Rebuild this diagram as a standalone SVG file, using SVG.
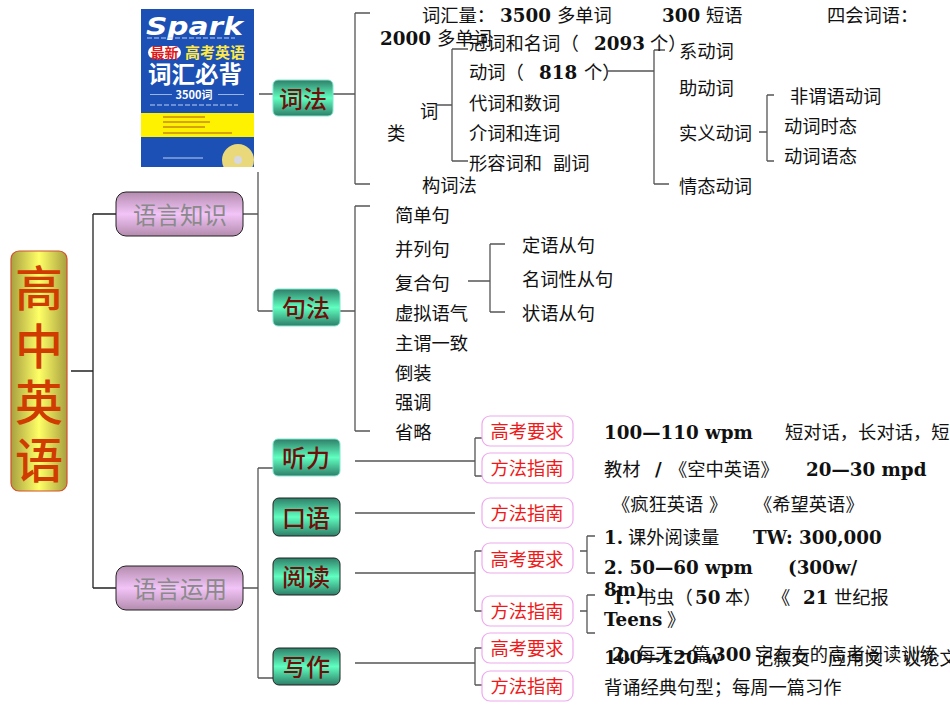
<svg xmlns="http://www.w3.org/2000/svg" width="950" height="713" viewBox="0 0 950 713">
<style>
text{font-family:"DejaVu Serif","Noto Sans CJK SC",serif;font-size:18.3px;fill:#111}
.b{font-weight:700}
.c{font-family:"Noto Sans CJK SC","DejaVu Sans",sans-serif}
.m{text-anchor:middle}
.g{font-size:24px;fill:#6e0f0a;font-weight:500}
.p{font-size:23.500px;fill:#8a8a8a}
.r{font-size:18.300px;fill:#f01818}
.h{font-size:48px;fill:#d03c00;font-weight:500}
.l{fill:none;stroke:#555;stroke-width:1.3}
.d{fill:none;stroke:#222;stroke-width:1.3}
.tl{fill:url(#teal);stroke:#7fe8cf;stroke-width:1}
.td{fill:url(#teal);stroke:#222;stroke-width:1}
.pk{fill:url(#pink);stroke:#222;stroke-width:1}
.rb{fill:#fff;stroke:#eeaaee;stroke-width:1.2}
</style>
<defs>
<linearGradient id="teal" x1="0" y1="0" x2="0" y2="1"><stop offset="0" stop-color="#2e7e68"/><stop offset=".5" stop-color="#60ffc0"/><stop offset="1" stop-color="#2e7e68"/></linearGradient>
<linearGradient id="pink" x1="0" y1="0" x2="0" y2="1"><stop offset="0" stop-color="#b48cae"/><stop offset=".5" stop-color="#f2c4f8"/><stop offset="1" stop-color="#b48cae"/></linearGradient>
<linearGradient id="gold" x1="0" y1="0" x2="1" y2="0"><stop offset="0" stop-color="#a8a040"/><stop offset=".5" stop-color="#ffff66"/><stop offset="1" stop-color="#a8a040"/></linearGradient>
<clipPath id="cover"><rect x="141" y="9" width="113" height="158"/></clipPath>
</defs>
<g id="book">
<rect x="141" y="9" width="113" height="158" fill="#1c50b4"/>
<rect x="141" y="113" width="113" height="24" fill="#fff200"/>
<text x="146" y="35" class="b" textLength="97" lengthAdjust="spacingAndGlyphs" style="font-family:'DejaVu Sans';font-size:24px;font-style:italic;fill:#fff">Spark</text>
<rect x="148" y="46" width="33" height="13" rx="6.500" fill="#fff"/>
<text x="164.500" y="58" class="c b m" style="font-size:14px;fill:#e01818">最新</text>
<text x="215" y="58" class="c b m" style="font-size:15px;fill:#ffe94a">高考英语</text>
<text x="195" y="83" class="c b m" style="font-size:23.500px;fill:#fff">词汇必背</text>
<text x="194" y="99" class="c b m" style="font-size:11px;fill:#fff">3500词</text>
<path d="M150 94.500H172M218 94.500H244" stroke="#cfe0ff" stroke-width=".7"/>
<path d="M147 38H235M150 105H238" stroke="#bcd0f5" stroke-width="1" stroke-dasharray="5 2"/>
<path d="M163 117H205M163 122H210M163 127H205M163 133H232" stroke="#c8880a" stroke-width="1.500"/>
<path d="M163 158H203" stroke="#bcd0f5" stroke-width="1"/>
<g clip-path="url(#cover)"><circle cx="238" cy="160" r="16" fill="#e9d97a"/><circle cx="238" cy="160" r="4" fill="#d8d8e0"/></g>
</g>
<g id="connectors">
<path class="d" d="M71 371H93M93 214V588M93 214H116M93 588H116"/>
<path class="l" d="M243 214H258M258 172V311M258 311H273M259 94H273M243 588H258M258 468V678M258 468H273M258 678H273"/>
<path class="l" d="M333 94H355M355 13V184M355 13H370M355 184H370M437 105H452M452 49V161M452 49H468M452 161H468M608 71H654M654 50V184M654 50H665M654 184H669M759 132H767M767 95V161M767 95H774M767 161H774"/>
<path class="l" d="M340 311H355M355 206V431M355 206H370M355 431H370M468 281H490M490 244V312M490 244H505M490 312H505"/>
<path class="l" d="M355 461H475M475 438V476M475 438H482M475 476H482M355 513H475M355 573H475M475 551V611M475 551H482M475 611H482M580 551H587M587 536V573M587 536H595M587 573H595M580 611H587M587 595V633M587 595H595M587 633H595M355 663H475M475 648V685M475 648H482M475 685H482"/>
</g>
<g id="n-root"><rect x="11" y="251" width="56" height="240" rx="8" fill="url(#gold)" stroke="#d2502a" stroke-width="1.200"/><text x="39" y="306" class="c h m">高</text><text x="39" y="364" class="c h m">中</text><text x="39" y="420" class="c h m">英</text><text x="39" y="478" class="c h m">语</text></g>
<g id="n-zhishi"><rect class="pk" x="116" y="192" width="127" height="44" rx="10"/><text x="180" y="224" class="c p m">语言知识</text></g>
<g id="n-yunyong"><rect class="pk" x="116" y="566" width="127" height="44" rx="10"/><text x="180" y="598" class="c p m">语言运用</text></g>
<g id="n-cifa"><rect class="tl" x="273" y="80" width="60" height="36" rx="5"/><text x="303" y="108" class="c g m">词法</text></g>
<g id="n-jufa"><rect class="tl" x="273" y="289" width="67" height="37" rx="5"/><text x="306" y="317" class="c g m">句法</text></g>
<g id="n-tingli"><rect class="tl" x="273" y="439" width="67" height="37" rx="5"/><text x="306" y="467" class="c g m">听力</text></g>
<g id="n-kouyu"><rect class="td" x="273" y="498" width="67" height="38" rx="6"/><text x="306" y="527" class="c g m">口语</text></g>
<g id="n-yuedu"><rect class="td" x="273" y="558" width="67" height="37" rx="6"/><text x="306" y="586" class="c g m">阅读</text></g>
<g id="n-xiezuo"><rect class="td" x="273" y="648" width="67" height="37" rx="6"/><text x="306" y="676" class="c g m">写作</text></g>
<g id="n-r1"><rect class="rb" x="482" y="416" width="91" height="30" rx="8"/><text x="527" y="438" class="c r m">高考要求</text></g>
<g id="n-r2"><rect class="rb" x="482" y="453" width="91" height="30" rx="8"/><text x="527" y="475" class="c r m">方法指南</text></g>
<g id="n-r3"><rect class="rb" x="482" y="498" width="91" height="30" rx="8"/><text x="527" y="520" class="c r m">方法指南</text></g>
<g id="n-r4"><rect class="rb" x="482" y="543" width="91" height="30" rx="8"/><text x="527" y="566" class="c r m">高考要求</text></g>
<g id="n-r5"><rect class="rb" x="482" y="596" width="91" height="30" rx="8"/><text x="527" y="618" class="c r m">方法指南</text></g>
<g id="n-r6"><rect class="rb" x="482" y="633" width="91" height="30" rx="8"/><text x="527" y="655" class="c r m">高考要求</text></g>
<g id="n-r7"><rect class="rb" x="482" y="671" width="91" height="30" rx="8"/><text x="527" y="693" class="c r m">方法指南</text></g>
<g id="labels">
<text x="422" y="22">词汇量：<tspan x="500" class="b">3500</tspan><tspan x="557">多单词</tspan></text>
<text x="662" y="22"><tspan class="b">300</tspan><tspan x="706">短语</tspan></text>
<text x="827" y="22">四会词语：</text>
<text x="380" y="45"><tspan class="b">2000</tspan><tspan x="437">多单词</tspan></text>
<text x="469" y="50">冠词和名词（<tspan x="594" class="b">2093</tspan><tspan x="650">个）</tspan></text>
<text x="469" y="79">动词（<tspan x="539" class="b">818</tspan><tspan x="584">个）</tspan></text>
<text x="469" y="110">代词和数词</text>
<text x="469" y="140">介词和连词</text>
<text x="469" y="170">形容词和<tspan x="553">副词</tspan></text>
<text x="420" y="118">词</text>
<text x="387" y="140">类</text>
<text x="422" y="192">构词法</text>
<text x="679" y="58">系动词</text>
<text x="679" y="95">助动词</text>
<text x="679" y="140">实义动词</text>
<text x="679" y="193">情态动词</text>
<text x="790" y="103">非谓语动词</text>
<text x="784" y="133">动词时态</text>
<text x="784" y="163">动词语态</text>
<text x="395" y="222">简单句</text>
<text x="395" y="256">并列句</text>
<text x="395" y="290">复合句</text>
<text x="395" y="320">虚拟语气</text>
<text x="395" y="350">主谓一致</text>
<text x="395" y="380">倒装</text>
<text x="395" y="409">强调</text>
<text x="395" y="439">省略</text>
<text x="522" y="252">定语从句</text>
<text x="522" y="286">名词性从句</text>
<text x="522" y="320">状语从句</text>
<text x="604" y="439" class="b">100—110 wpm</text>
<text x="785" y="439">短对话，长对话，短文</text>
<text x="604" y="476">教材<tspan x="655" class="b">/</tspan><tspan x="669">《空中英语》</tspan></text>
<text x="806" y="476" class="b">20—30 mpd</text>
<text x="612" y="511">《疯狂英语<tspan x="709">》</tspan></text>
<text x="754" y="511">《希望英语》</text>
<text x="604" y="544"><tspan class="b">1.</tspan><tspan x="628">课外阅读量</tspan></text>
<text x="753" y="544" class="b">TW: 300,000</text>
<text x="604" y="574" class="b">2. 50—60 wpm</text>
<text x="788" y="574" class="b">(300w/</text>
<text x="604" y="596" class="b">8m)</text>
<text x="612" y="604"><tspan class="b">1.</tspan><tspan x="638">书虫（</tspan><tspan x="695" class="b">50</tspan><tspan x="725">本）</tspan><tspan x="772">《</tspan><tspan x="803" class="b">21</tspan><tspan x="834">世纪报</tspan></text>
<text x="604" y="626"><tspan class="b">Teens</tspan><tspan x="667">》</tspan></text>
<text x="612" y="661"><tspan class="b">2.</tspan><tspan x="637">每天一篇</tspan><tspan x="713" class="b">300</tspan><tspan x="755">字左右的高考阅读训练</tspan></text>
<text x="604" y="664" class="b">100—120 w</text>
<text x="755" y="665">记叙文</text>
<text x="828" y="665">应用文</text>
<text x="903" y="665">议论文</text>
<text x="604" y="694">背诵经典句型；每周一篇习作</text>
</g>
</svg>
